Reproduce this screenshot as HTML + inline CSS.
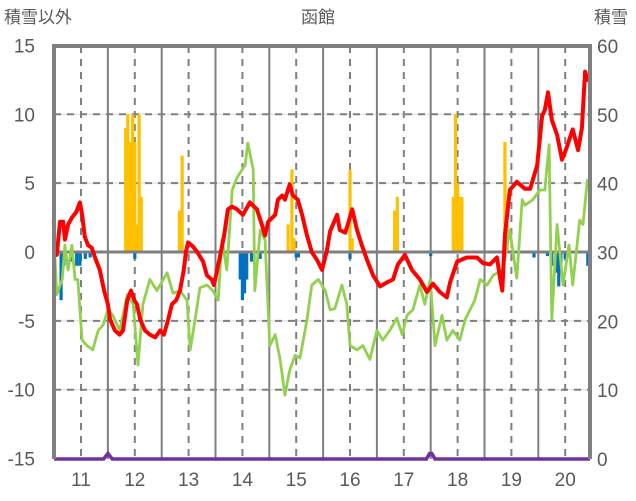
<!DOCTYPE html>
<html><head><meta charset="utf-8">
<style>
html,body{margin:0;padding:0;background:#fff;}
svg{display:block;font-family:"Liberation Sans","Noto Sans CJK JP",sans-serif;}
</style></head>
<body>
<svg id="chart" width="636" height="501" viewBox="0 0 636 501">
<text x="4" y="23" font-size="17" fill="#595959">積雪以外</text>
<text x="318" y="23" font-size="17" fill="#595959" text-anchor="middle">函館</text>
<text x="628" y="23" font-size="17" fill="#595959" text-anchor="end">積雪</text>
<g id="grid"></g>
<g id="bars"></g>
<g id="lines"></g>
<g id="frame"></g>
<g id="ticks"></g>
</svg>
<script>
const yearTicks=[11,12,13,14,15,16,17,18,19,20];
const leftTicks=[15,10,5,0,-5,-10,-15];
const rightTicks=[60,50,40,30,20,10,0];
const redDates=[2010.50,2010.55,2010.61,2010.67,2010.70,2010.76,2010.83,2010.91,2010.98,2011.02,2011.07,2011.13,2011.20,2011.26,2011.35,2011.43,2011.50,2011.54,2011.63,2011.72,2011.78,2011.86,2011.93,2011.99,2012.04,2012.10,2012.19,2012.28,2012.38,2012.47,2012.54,2012.62,2012.69,2012.77,2012.84,2012.91,2012.95,2012.99,2013.08,2013.16,2013.27,2013.34,2013.43,2013.47,2013.51,2013.58,2013.66,2013.73,2013.81,2013.90,2014.01,2014.14,2014.27,2014.36,2014.42,2014.48,2014.61,2014.66,2014.74,2014.79,2014.88,2014.94,2015.03,2015.11,2015.20,2015.29,2015.39,2015.48,2015.57,2015.63,2015.76,2015.81,2015.91,2015.96,2016.04,2016.13,2016.22,2016.32,2016.43,2016.56,2016.69,2016.80,2016.89,2017.02,2017.15,2017.30,2017.43,2017.54,2017.67,2017.80,2017.86,2017.99,2018.17,2018.36,2018.47,2018.60,2018.73,2018.79,2018.83,2018.88,2018.97,2019.10,2019.25,2019.35,2019.48,2019.57,2019.62,2019.68,2019.75,2019.85,2019.94,2020.03,2020.14,2020.24,2020.31,2020.37,2020.42,2020.46];
const redValues=[0.1,-0.2,2.2,2.2,0.9,2.0,2.5,2.9,3.6,2.7,1.1,0.5,0.3,-0.4,-1.3,-2.8,-3.8,-4.9,-5.7,-6.0,-5.7,-3.5,-2.8,-3.5,-3.8,-4.9,-5.7,-6.0,-6.2,-5.7,-6.0,-4.9,-3.8,-3.5,-2.8,-1.3,0,0.7,0.4,0,-0.7,-1.7,-2.0,-2.4,-1.7,-0.4,1.2,3.1,3.3,3.1,2.7,3.6,3.1,2.0,1.2,2.2,2.7,3.8,4.1,3.8,4.9,4.1,3.8,2.7,1.2,0,-0.6,-1.3,0.1,1.5,2.7,1.6,1.4,2.0,3.1,1.6,0.5,-0.6,-1.7,-2.5,-2.2,-2.0,-0.9,-0.2,-1.3,-2.0,-2.9,-2.3,-2.9,-3.3,-2.2,-0.7,-0.4,-0.4,-0.8,-0.9,-0.4,-1.9,-2.8,1.2,4.5,5.1,4.6,4.6,6.3,9.9,10.3,11.6,9.6,8.5,6.7,7.6,8.9,7.4,9.0,13.1,12.5,12.9];
const greenDates=[2010.48,2010.55,2010.65,2010.70,2010.76,2010.83,2010.89,2010.94,2011.02,2011.11,2011.22,2011.32,2011.41,2011.50,2011.59,2011.72,2011.86,2011.97,2012.06,2012.15,2012.28,2012.41,2012.60,2012.71,2012.84,2012.97,2013.03,2013.12,2013.21,2013.34,2013.45,2013.55,2013.62,2013.71,2013.81,2013.90,2014.05,2014.10,2014.20,2014.23,2014.33,2014.42,2014.51,2014.61,2014.70,2014.79,2014.88,2014.98,2015.07,2015.20,2015.29,2015.41,2015.54,2015.63,2015.72,2015.85,2015.94,2016.00,2016.13,2016.24,2016.37,2016.50,2016.61,2016.74,2016.87,2016.97,2017.06,2017.17,2017.30,2017.39,2017.49,2017.58,2017.71,2017.80,2017.91,2018.04,2018.14,2018.32,2018.42,2018.55,2018.66,2018.84,2018.97,2019.10,2019.20,2019.25,2019.40,2019.53,2019.62,2019.70,2019.75,2019.85,2019.96,2020.07,2020.14,2020.27,2020.33,2020.41,2020.46];
const greenValues=[2.3,-3.1,-2.0,0.5,-1.3,0.5,-2.0,-2.0,-6.4,-6.8,-7.1,-5.7,-5.3,-4.2,-4.6,-5.7,-3.1,-3.8,-8.2,-3.8,-2.0,-2.8,-1.5,-3.0,-2.8,-3.5,-7.1,-4.9,-2.6,-2.4,-2.8,-3.5,0.9,-1.3,4.5,5.4,6.3,7.9,6.0,-2.8,1.6,0.9,-6.8,-6.0,-7.8,-10.4,-8.6,-7.5,-7.7,-4.9,-2.4,-2.0,-2.8,-4.2,-4.1,-2.4,-3.8,-6.8,-7.1,-6.8,-7.8,-5.7,-6.4,-5.7,-4.8,-6.0,-4.6,-4.2,-2.4,-3.8,-2.0,-6.8,-4.6,-6.4,-5.7,-6.4,-4.9,-3.5,-2.0,-2.4,-1.7,-1.3,1.6,-1.9,3.8,3.4,3.8,4.5,4.5,7.8,-4.9,2.0,-2.4,0.5,-2.4,2.3,2.0,5.2,4.5];
const yellowDates=[2011.83,2011.87,2011.92,2011.96,2012.00,2012.04,2012.08,2012.12,2012.83,2012.88,2014.85,2014.92,2014.96,2016.00,2016.04,2016.83,2016.88,2017.92,2017.96,2018.00,2018.04,2018.08,2018.88,2018.92];
const yellowValues=[9,10,8,10,8,2,10,4,3,7,2,6,1,6,1,3,4,4,10,5,4,4,8,2];
const blueDates=[2010.63,2010.68,2010.83,2010.92,2010.98,2011.08,2011.17,2012.00,2013.96,2014.00,2014.04,2014.08,2014.17,2014.33,2015.00,2015.04,2016.00,2017.50,2019.42,2019.67,2019.75,2019.83,2019.88,2019.92,2020.00,2020.04,2020.42];
const blueValues=[-3.5,-1.0,-0.7,-1.0,-1.0,-0.5,-0.4,-0.5,-2.0,-3.5,-3.0,-2.0,-0.7,-0.5,-0.4,-0.4,-0.5,-0.3,-0.4,-0.3,-1.0,-1.5,-2.5,-1.5,-0.5,-0.3,-1.0];
const purpleDates=[2010.50,2011.42,2011.50,2011.58,2017.42,2017.48,2017.52,2017.58,2020.46];
const purpleValues=[0,0,0.8,0,0,0.8,0.8,0,0];

const NS='http://www.w3.org/2000/svg';
const L=54,R=590,T=46,B=459;
function xs(t){return 81+(t-2011)*53.8;}
function yl(v){return 252-v*13.77;}
function yr(v){return B-v*(B-T)/60;}
function mk(tag,attrs,parent){const e=document.createElementNS(NS,tag);for(const k in attrs)e.setAttribute(k,attrs[k]);document.getElementById(parent).appendChild(e);return e;}

// horizontal grid
[10,5,-5,-10].forEach(v=>{
  const g=mk('line',{x1:L,x2:R,y1:yl(v),y2:yl(v),stroke:'#d9d9d9','stroke-width':1},'grid');
  
  
  const d=mk('line',{x1:L,x2:R,y1:yl(v),y2:yl(v),stroke:'#7f7f7f','stroke-width':2,'stroke-dasharray':'7,6'},'grid');
  
  
});
// vertical grid
yearTicks.forEach(y=>{
  const t=2000+y;
  const d=mk('line',{x1:xs(t),x2:xs(t),y1:T,y2:B,stroke:'#7f7f7f','stroke-width':2,'stroke-dasharray':'7,6'},'grid');
  
  
  if(t+0.5<2020.45){
    const s=mk('line',{x1:xs(t+0.5),x2:xs(t+0.5),y1:T,y2:B,stroke:'#7f7f7f','stroke-width':2},'grid');
    
    
  }
});
// bars
yellowDates.forEach((t,i)=>{
  const v=yellowValues[i];
  const b=mk('rect',{x:xs(t)-1.6,y:yl(v),width:3.2,height:yl(0)-yl(v),fill:'#FFC000'},'bars');
  
  
});
blueDates.forEach((t,i)=>{
  const v=blueValues[i];
  const b=mk('rect',{x:xs(t)-1.6,y:yl(0),width:3.2,height:yl(v)-yl(0),fill:'#0070C0'},'bars');
  
  
});
// zero line
const z=mk('line',{x1:L,x2:R,y1:yl(0),y2:yl(0),stroke:'#7f7f7f','stroke-width':3},'lines');


function path(ds,vs,yf){return ds.map((t,i)=>(i?'L':'M')+xs(t).toFixed(1)+','+yf(vs[i]).toFixed(1)).join(' ');}
const gl=mk('path',{d:path(greenDates,greenValues,yl),fill:'none',stroke:'#92D050','stroke-width':2.8,'stroke-linejoin':'round'},'lines');


const rl=mk('path',{d:path(redDates,redValues,yl),fill:'none',stroke:'#FF0000','stroke-width':4,'stroke-linejoin':'round'},'lines');


const pl=mk('path',{d:path(purpleDates,purpleValues,yr),fill:'none',stroke:'#7030A0','stroke-width':3.5},'lines');


// frame
const fr=mk('path',{d:`M${L},${B} L${L},${T} L${R},${T} L${R},${B}`,fill:'none',stroke:'#808080','stroke-width':4},'frame');


// ticks
leftTicks.forEach(v=>{
  const t=mk('text',{x:35,y:yl(v)+7,'font-size':19,fill:'#595959','text-anchor':'end'},'ticks');
  t.textContent=v;
  
  
});
rightTicks.forEach(v=>{
  const t=mk('text',{x:597,y:yr(v)+7,'font-size':19,fill:'#595959'},'ticks');
  t.textContent=v;
  
  
});
yearTicks.forEach(y=>{
  const t=mk('text',{x:xs(2000+y),y:486,'font-size':19,fill:'#595959','text-anchor':'middle'},'ticks');
  t.textContent=y;
  
  
});
</script>
</body></html>
